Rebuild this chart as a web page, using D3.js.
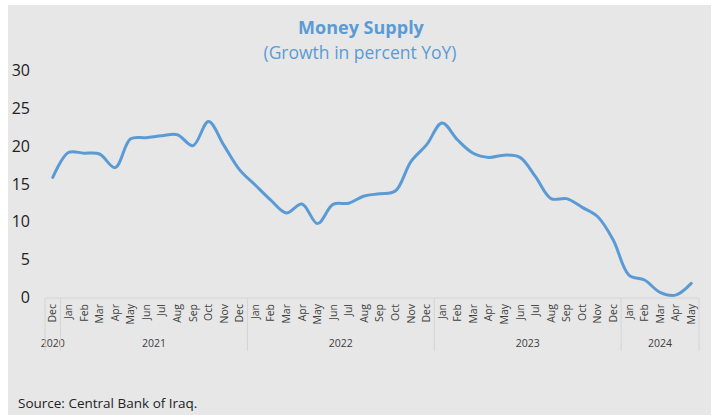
<!DOCTYPE html>
<html>
<head>
<meta charset="utf-8">
<script src="https://cdn.jsdelivr.net/npm/d3@7"></script>
<style>
  body { margin: 0; background: #fff; }
  svg { display: block; font-family: "Open Sans", "Noto Sans", sans-serif; }
</style>
</head>
<body>
<svg width="715" height="415"></svg>
<script>
// years and the months shown for each one
var years = ["2020", "2021", "2022", "2023", "2024"];
var allMonths = ["Jan","Feb","Mar","Apr","May","Jun","Jul","Aug","Sep","Oct","Nov","Dec"];
var yearMonths = [
  ["Dec"],
  allMonths,
  allMonths,
  allMonths,
  ["Jan","Feb","Mar","Apr","May"]
];

// money supply growth, percent YoY (Dec 2020 .. May 2024)
var growth = [
  15.8,
  19.1, 19.0, 18.9, 17.1, 20.9, 21.05, 21.3, 21.45, 20.0, 23.2, 20.0, 16.8,
  14.8, 12.8, 11.1, 12.3, 9.7, 12.25, 12.4, 13.35, 13.65, 14.0, 17.9, 20.1,
  23.0, 20.75, 19.0, 18.45, 18.75, 18.45, 15.9, 13.0, 13.0, 11.85, 10.6, 7.5,
  2.9, 2.25, 0.6, 0.25, 1.8
];

var yTicks = [0, 5, 10, 15, 20, 25, 30];

// flat list of categories
var cats = [];
years.forEach(function(y, i) {
  yearMonths[i].forEach(function(m) { cats.push({year: y, month: m, key: y + "-" + m}); });
});
var data = cats.map(function(c, i) { return {key: c.key, month: c.month, value: growth[i]}; });

var blue = "#5b9bd5";
var svg = d3.select("svg");

// grey chart area
svg.append("rect")
    .attr("x", 8).attr("y", 5)
    .attr("width", 703).attr("height", 410)
    .attr("fill", "#e7e7e7");

// titles
svg.append("text")
    .attr("x", 361).attr("y", 34)
    .attr("text-anchor", "middle")
    .attr("fill", blue)
    .style("font-size", "18px")
    .style("font-weight", "bold")
    .text("Money Supply");
svg.append("text")
    .attr("x", 360).attr("y", 59)
    .attr("text-anchor", "middle")
    .attr("fill", blue)
    .style("font-size", "17.5px")
    .text("(Growth in percent YoY)");

// scales
var x = d3.scaleBand()
    .domain(cats.map(function(c) { return c.key; }))
    .range([45, 699])
    .padding(0);

var y = d3.scaleLinear()
    .domain([0, 30])
    .range([297, 70]);

// y axis (labels only)
var yAxis = svg.append("g")
    .attr("transform", "translate(30,0)")
    .call(d3.axisLeft(y).tickValues(yTicks).tickSize(0).tickPadding(0));
yAxis.select(".domain").remove();
yAxis.selectAll("text")
    .attr("fill", "#222")
    .attr("dy", "0.35em")
    .style("font-size", "16px")
    .style("font-family", "'Open Sans', sans-serif");

// x axis line
var axisY = 298;
svg.append("line")
    .attr("x1", x.range()[0]).attr("x2", x.range()[1])
    .attr("y1", axisY).attr("y2", axisY)
    .attr("stroke", "#d4d4d4").attr("stroke-width", 1);

// month labels
var xAxis = svg.append("g")
    .attr("transform", "translate(0," + axisY + ")")
    .call(d3.axisBottom(x).tickSize(0).tickFormat(function(k) { return k.split("-")[1]; }));
xAxis.select(".domain").remove();
xAxis.selectAll("text")
    .attr("transform", "rotate(-90)")
    .attr("x", -6)
    .attr("y", 0)
    .attr("dy", "0.35em")
    .attr("text-anchor", "end")
    .attr("fill", "#404040")
    .style("font-size", "10.5px")
    .style("font-family", "'Open Sans', sans-serif");

// year group separators and labels
var sepX = [x.range()[0]];
var idx = 0;
years.forEach(function(yr, i) {
  var first = cats[idx].key;
  var last = cats[idx + yearMonths[i].length - 1].key;
  var x0 = x(first), x1 = x(last) + x.bandwidth();
  sepX.push(x1);
  svg.append("text")
      .attr("x", (x0 + x1) / 2)
      .attr("y", 347)
      .attr("text-anchor", "middle")
      .attr("fill", "#404040")
      .style("font-size", "10.5px")
      .text(yr);
  idx += yearMonths[i].length;
});
svg.selectAll(".sep")
    .data(sepX)
  .enter().append("line")
    .attr("class", "sep")
    .attr("x1", function(d) { return d; })
    .attr("x2", function(d) { return d; })
    .attr("y1", axisY)
    .attr("y2", 351)
    .attr("stroke", "#d4d4d4")
    .attr("stroke-width", 1);

// the line
var line = d3.line()
    .x(function(d) { return x(d.key) + x.bandwidth() / 2; })
    .y(function(d) { return y(d.value); })
    .curve(d3.curveCatmullRom.alpha(0.5));

svg.append("path")
    .datum(data)
    .attr("fill", "none")
    .attr("stroke", blue)
    .attr("stroke-width", 3)
    .attr("stroke-linejoin", "round")
    .attr("stroke-linecap", "round")
    .attr("d", line);

// source
svg.append("text")
    .attr("x", 18).attr("y", 408)
    .attr("fill", "#222")
    .style("font-size", "13.5px")
    .text("Source: Central Bank of Iraq.");
</script>
</body>
</html>
